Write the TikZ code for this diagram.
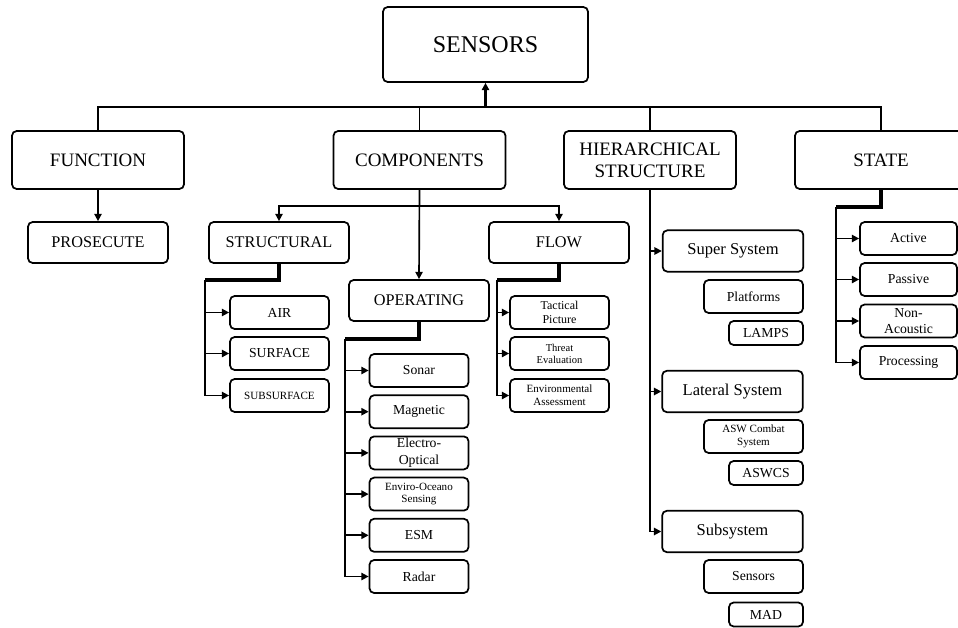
\documentclass[tikz,border=0pt]{standalone}
\usepackage{fontspec}
\setmainfont{Liberation Serif}
\usetikzlibrary{arrows.meta}
\newcommand\fs[2]{\fontsize{#1}{#2}\selectfont}

\begin{document}
\begin{tikzpicture}[x=0.75pt,y=-0.75pt,
  box/.style={draw,rounded corners=3.5pt,line width=1.3pt,inner sep=0pt,align=center},
  topbox/.style={box,minimum width=153.75pt,minimum height=56.25pt,font={\fs{18}{20}}},
  lvlone/.style={box,minimum width=129pt,minimum height=43.5pt,font={\fs{14.25}{16.5}}},
  lvltwo/.style={box,minimum width=105pt,minimum height=30.75pt,font={\fs{12.2}{14}}},
  sysbox/.style={box,minimum width=105.5pt,minimum height=31pt,font={\fs{12.4}{14}}},
  item/.style={box,minimum width=74.25pt,minimum height=24.75pt,font={\fs{10.3}{12.5}}},
  stateitem/.style={item,minimum width=72.75pt},
  tag/.style={box,minimum width=55.5pt,minimum height=18pt,font={\fs{10.3}{12}}},
  small/.style={font={\fs{8.3}{9.5}}},
  link/.style={line width=1.25pt},
  trunk/.style={line width=2.4pt},
  arrowline/.style={link,-{Triangle[length=5.5pt,width=5.5pt]}}
]
\clip (0,0) rectangle (958,628);

\node (sensors) at (485.5,44.5)[topbox] {SENSORS};
\node (func) at (98,160)[lvlone] {FUNCTION};
\node (comp) at (419.5,160)[lvlone] {COMPONENTS};
\node (hier) at (650,160)[lvlone] {HIERARCHICAL\\STRUCTURE};
\node (state) at (881,160)[lvlone] {STATE};

\node (prosecute) at (98,242.5)[lvltwo] {PROSECUTE};
\node (structural) at (279,242.5)[lvltwo] {STRUCTURAL};
\node (flow) at (559,242.5)[lvltwo] {FLOW};
\node (operating) at (419,300.5)[lvltwo] {OPERATING};

\node (air) at (279.5,312.5)[item] {AIR};
\node (surface) at (279.5,353.5)[item] {SURFACE};
\node (subsurface) at (279.5,395.5)[item,small] {SUBSURFACE};

\node (sonar) at (419,370.5)[item] {Sonar};
\node (magnetic) at (419,411.7)[item] {Magnetic};
\node (electro) at (419,452.9)[item] {Electro-\\Optical};
\node (enviro) at (419,494.1)[item,small] {Enviro-Oceano\\Sensing};
\node (esm) at (419,535.3)[item] {ESM};
\node (radar) at (419,576.5)[item] {Radar};

\node (tactical) at (559.5,312.5)[item,font={\fs{9}{10.7}}] {Tactical\\Picture};
\node (threat) at (559.5,353.5)[item,font={\fs{7.9}{9}}] {Threat\\Evaluation};
\node (envassess) at (559.5,395.5)[item,small] {Environmental\\Assessment};

\node (super) at (733,251)[sysbox] {Super System};
\node (platforms) at (753.5,296.5)[item] {Platforms};
\node (lamps) at (766,333)[tag] {LAMPS};
\node (lateral) at (732.5,391.5)[sysbox] {Lateral System};
\node (aswcombat) at (753.5,436.5)[item,small] {ASW Combat\\System};
\node (aswcs) at (766,473)[tag] {ASWCS};
\node (subsystem) at (732.5,531.5)[sysbox] {Subsystem};
\node (sensorsb) at (753.5,576.5)[item] {Sensors};
\node (mad) at (766,614.5)[tag] {MAD};

\node (active) at (908.5,238.5)[stateitem] {Active};
\node (passive) at (908.5,279.5)[stateitem] {Passive};
\node (nonacoustic) at (908.5,321)[stateitem] {Non-\\Acoustic};
\node (processing) at (908.5,362.5)[stateitem] {Processing};

\coordinate (bus) at (485.5,107);
\draw[link] (func.north) |- (bus) -| (state.north);
\draw[link] (comp.north) -- (comp.north |- bus);
\draw[link] (hier.north) -- (hier.north |- bus);
\draw[trunk,-{Triangle[length=5.5pt,width=5.5pt]}] (bus) -- (sensors.south);

\draw[arrowline] (func.south) -- (prosecute.north);
\draw[arrowline] (comp.south) -- (operating.north);
\coordinate (split) at (419.5,206);
\draw[arrowline] (split) -| (structural.north);
\draw[arrowline] (split) -| (flow.north);

\coordinate (strail) at (205,280);
\draw[trunk] (structural.south) |- (strail);
\draw[link] (strail) -- (strail |- subsurface.west);
\foreach \n in {air,surface,subsurface}
  \draw[arrowline] (strail |- \n.west) -- (\n.west);

\coordinate (oprail) at (345,339);
\draw[trunk] (operating.south) |- (oprail);
\draw[link] (oprail) -- (oprail |- radar.west);
\foreach \n in {sonar,magnetic,electro,enviro,esm,radar}
  \draw[arrowline] (oprail |- \n.west) -- (\n.west);

\coordinate (flrail) at (497,280);
\draw[trunk] (flow.south) |- (flrail);
\draw[link] (flrail) -- (flrail |- envassess.west);
\foreach \n in {tactical,threat,envassess}
  \draw[arrowline] (flrail |- \n.west) -- (\n.west);

\draw[link] (hier.south) -- (hier.south |- subsystem.west);
\foreach \n in {super,lateral,subsystem}
  \draw[arrowline] (hier.south |- \n.west) -- (\n.west);

\coordinate (strail2) at (836,207);
\draw[trunk] (state.south) |- (strail2);
\draw[link] (strail2) -- (strail2 |- processing.west);
\foreach \n in {active,passive,nonacoustic,processing}
  \draw[arrowline] (strail2 |- \n.west) -- (\n.west);
\end{tikzpicture}
\end{document}
